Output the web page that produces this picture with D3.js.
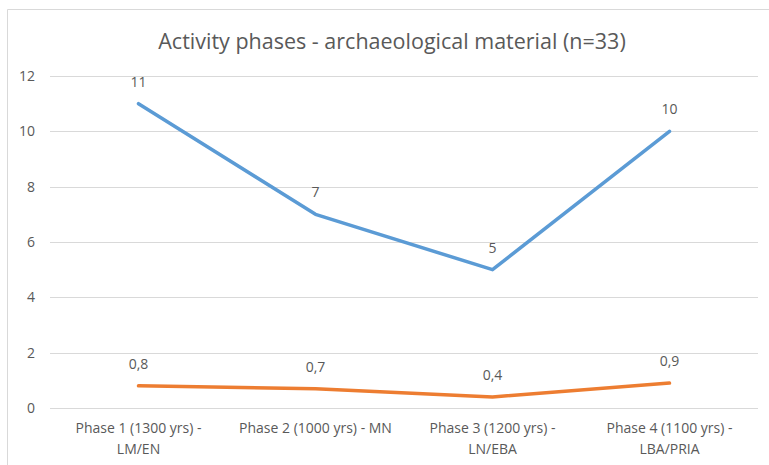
<!DOCTYPE html>
<html>
<head>
<meta charset="utf-8">
<script src="https://cdn.jsdelivr.net/npm/d3@7"></script>
<style>
  body { margin: 0; background: #fff; }
  text { font-family: "Open Sans", "Noto Sans", sans-serif; fill: #595959; }
</style>
</head>
<body>
<div id="chart"></div>
<script>
// chart data
let categories = [
    ["Phase 1 (1300 yrs) -", "LM/EN"],
    ["Phase 2 (1000 yrs) - MN"],
    ["Phase 3 (1200 yrs) -", "LN/EBA"],
    ["Phase 4 (1100 yrs) -", "LBA/PRIA"]
]
let seriesBlue = [11, 7, 5, 10]
let seriesOrange = [0.8, 0.7, 0.4, 0.9]
let yTicks = [0, 2, 4, 6, 8, 10, 12]
let titleText = "Activity phases - archaeological material (n=33)"

let W = 769, H = 465
let margin = { top: 76, right: 11, bottom: 57, left: 50 }
let width = W - margin.left - margin.right
let height = H - margin.top - margin.bottom

let svg = d3.select("#chart").append("svg")
    .attr("width", W)
    .attr("height", H)

// chart frame
svg.append("path")
    .attr("d", "M7.5," + H + "V9.5H" + W)
    .attr("fill", "none")
    .attr("stroke", "#d9d9d9")
    .attr("stroke-width", 1)

svg.append("text")
    .attr("x", 392)
    .attr("y", 49)
    .attr("text-anchor", "middle")
    .style("font-size", "21.5px")
    .text(titleText)

let g = svg.append("g")
    .attr("transform", "translate(" + margin.left + "," + margin.top + ")")

let x = d3.scaleBand().domain(d3.range(categories.length)).range([0, width])
let y = d3.scaleLinear().domain([0, 12]).range([height, 0])

// gridlines
g.selectAll(".grid")
    .data(yTicks)
    .enter().append("line")
    .attr("x1", 0)
    .attr("x2", width)
    .attr("y1", d => Math.round(y(d)) + 0.5)
    .attr("y2", d => Math.round(y(d)) + 0.5)
    .attr("stroke", "#d9d9d9")
    .attr("stroke-width", 1)

let yAxis = g.append("g")
    .call(d3.axisLeft(y).tickValues(yTicks).tickSize(0).tickPadding(15))
yAxis.select(".domain").remove()
yAxis.selectAll("text")
    .style("font-size", "14px")
    .attr("fill", "#595959")

let xAxis = g.append("g")
    .attr("transform", "translate(0," + height + ")")
    .call(d3.axisBottom(x).tickSize(0).tickFormat(""))
xAxis.select(".domain").remove()
xAxis.selectAll(".tick").each(function (d) {
    let t = d3.select(this).append("text")
        .attr("text-anchor", "middle")
        .style("font-size", "14px")
    categories[d].forEach(function (line, i) {
        t.append("tspan")
            .attr("x", 0)
            .attr("y", 25 + i * 21)
            .text(line)
    })
})

let cx = i => x(i) + x.bandwidth() / 2

let valueline = d3.line()
    .x((d, i) => cx(i))
    .y(d => y(d))

let series = [
    { values: seriesBlue, color: "#5b9bd5" },
    { values: seriesOrange, color: "#ed7d31" }
]

series.forEach(function (s) {
    g.append("path")
        .datum(s.values)
        .attr("d", valueline)
        .attr("fill", "none")
        .attr("stroke", s.color)
        .attr("stroke-width", 3.5)
        .attr("stroke-linejoin", "round")
        .attr("stroke-linecap", "round")

    g.selectAll(null)
        .data(s.values)
        .enter().append("text")
        .attr("x", (d, i) => cx(i))
        .attr("y", d => y(d) - 17)
        .attr("text-anchor", "middle")
        .style("font-size", "14px")
        .text(d => String(d).replace(".", ","))
})
</script>
</body>
</html>
